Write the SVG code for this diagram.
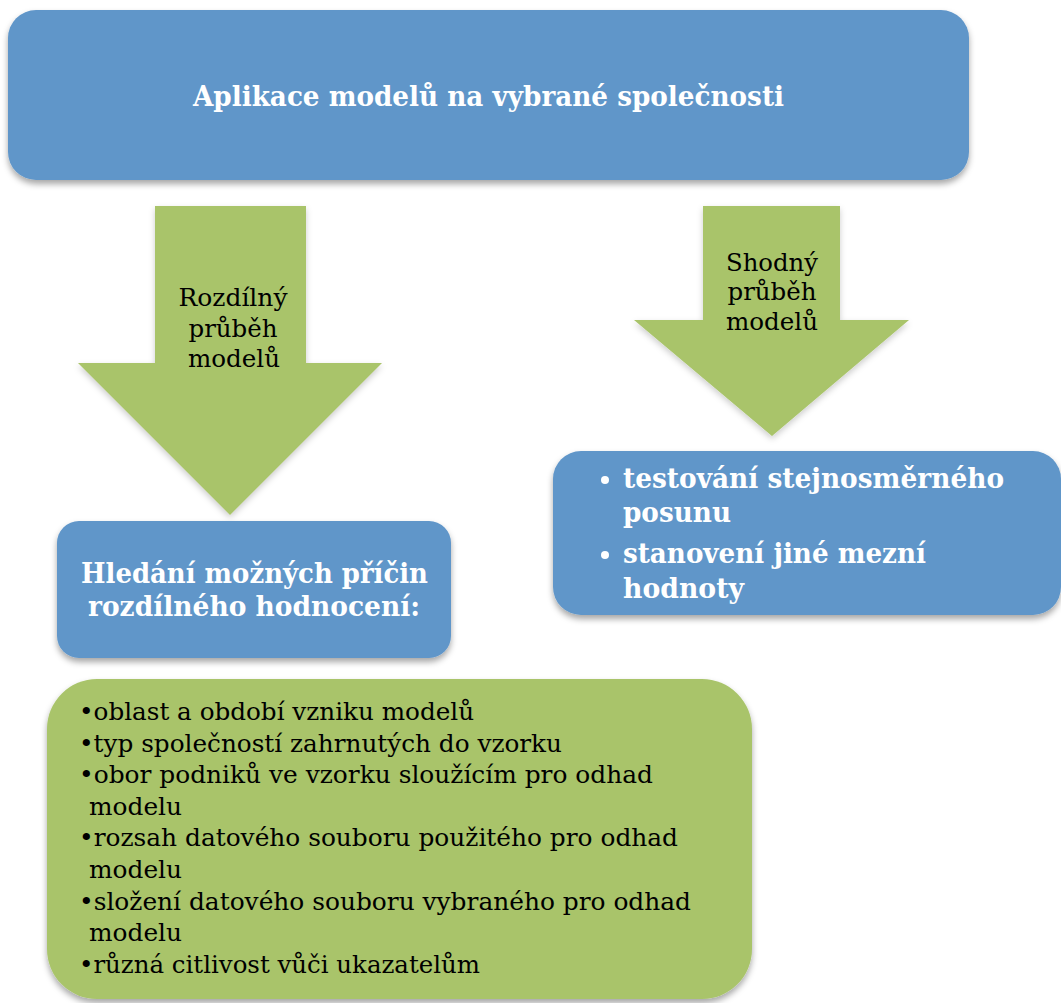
<svg xmlns="http://www.w3.org/2000/svg" width="1061" height="1003" viewBox="0 0 1061 1003">
<defs>
<filter id="sh" x="-10%" y="-10%" width="120%" height="130%">
<feDropShadow dx="0" dy="4" stdDeviation="3" flood-color="#000" flood-opacity="0.35"/>
</filter>
<filter id="shs" x="-10%" y="-10%" width="120%" height="130%">
<feDropShadow dx="0" dy="3" stdDeviation="3" flood-color="#000" flood-opacity="0.2"/>
</filter>
<style>
.blue{fill:#6096C9;}
.green{fill:#A9C46B;}
.wb{font-family:"DejaVu Serif","Liberation Serif",serif;font-weight:bold;fill:#fff;font-size:27px;}
.bl{font-family:"DejaVu Serif","Liberation Serif",serif;fill:#000;font-size:24px;}
.lst{font-family:"DejaVu Serif","Liberation Serif",serif;fill:#000;font-size:25px;}
</style>
</defs>
<rect width="1061" height="1003" fill="#fff"/>

<g id="top">
<rect class="blue" x="8" y="10" width="961" height="170" rx="28" filter="url(#sh)"/>
<text class="wb" x="193" y="106" textLength="591" lengthAdjust="spacingAndGlyphs">Aplikace modelů na vybrané společnosti</text>
</g>

<g id="connectors">
<g id="arrow-left">
<polygon class="green" points="155,206 306,206 306,363 382,363 230,515 78,363 155,363" filter="url(#shs)"/>
<text class="bl" text-anchor="middle" x="233" y="306" textLength="109" lengthAdjust="spacingAndGlyphs">Rozdílný</text>
<text class="bl" text-anchor="middle" x="233" y="337" textLength="89" lengthAdjust="spacingAndGlyphs">průběh</text>
<text class="bl" text-anchor="middle" x="234" y="367" textLength="92" lengthAdjust="spacingAndGlyphs">modelů</text>
</g>
<g id="arrow-right">
<polygon class="green" points="703,206 840,206 840,320 909,320 772,436 634,320 703,320" filter="url(#shs)"/>
<text class="bl" text-anchor="middle" x="772" y="271" textLength="92" lengthAdjust="spacingAndGlyphs">Shodný</text>
<text class="bl" text-anchor="middle" x="772" y="300" textLength="89" lengthAdjust="spacingAndGlyphs">průběh</text>
<text class="bl" text-anchor="middle" x="772" y="330" textLength="92" lengthAdjust="spacingAndGlyphs">modelů</text>
</g>
</g>

<g id="right-box">
<rect class="blue" x="553" y="451" width="508" height="164" rx="28" filter="url(#sh)"/>
<circle cx="605" cy="480" r="4" fill="#fff"/>
<text class="wb" x="623" y="488" textLength="381" lengthAdjust="spacingAndGlyphs">testování stejnosměrného</text>
<text class="wb" x="623" y="522" textLength="108" lengthAdjust="spacingAndGlyphs">posunu</text>
<circle cx="605" cy="555" r="4" fill="#fff"/>
<text class="wb" x="623" y="563" textLength="303" lengthAdjust="spacingAndGlyphs">stanovení jiné mezní</text>
<text class="wb" x="623" y="598" textLength="121" lengthAdjust="spacingAndGlyphs">hodnoty</text>
</g>

<g id="mid-box">
<rect class="blue" x="57" y="521" width="394" height="137" rx="22" filter="url(#sh)"/>
<text class="wb" x="81" y="583" textLength="347" lengthAdjust="spacingAndGlyphs">Hledání možných příčin</text>
<text class="wb" x="88" y="616" textLength="332" lengthAdjust="spacingAndGlyphs">rozdílného hodnocení:</text>
</g>

<g id="bottom-box">
<rect class="green" x="47" y="679" width="705" height="320" rx="50" filter="url(#sh)"/>
<g class="lst">
<text x="79" y="720" textLength="395" lengthAdjust="spacingAndGlyphs">•oblast a období vzniku modelů</text>
<text x="79" y="752" textLength="483" lengthAdjust="spacingAndGlyphs">•typ společností zahrnutých do vzorku</text>
<text x="79" y="783" textLength="574" lengthAdjust="spacingAndGlyphs">•obor podniků ve vzorku sloužícím pro odhad</text>
<text x="89" y="815" textLength="93" lengthAdjust="spacingAndGlyphs">modelu</text>
<text x="79" y="846" textLength="599" lengthAdjust="spacingAndGlyphs">•rozsah datového souboru použitého pro odhad</text>
<text x="89" y="878" textLength="93" lengthAdjust="spacingAndGlyphs">modelu</text>
<text x="79" y="910" textLength="612" lengthAdjust="spacingAndGlyphs">•složení datového souboru vybraného pro odhad</text>
<text x="89" y="941" textLength="93" lengthAdjust="spacingAndGlyphs">modelu</text>
<text x="79" y="973" textLength="401" lengthAdjust="spacingAndGlyphs">•různá citlivost vůči ukazatelům</text>
</g>
</g>
</svg>
